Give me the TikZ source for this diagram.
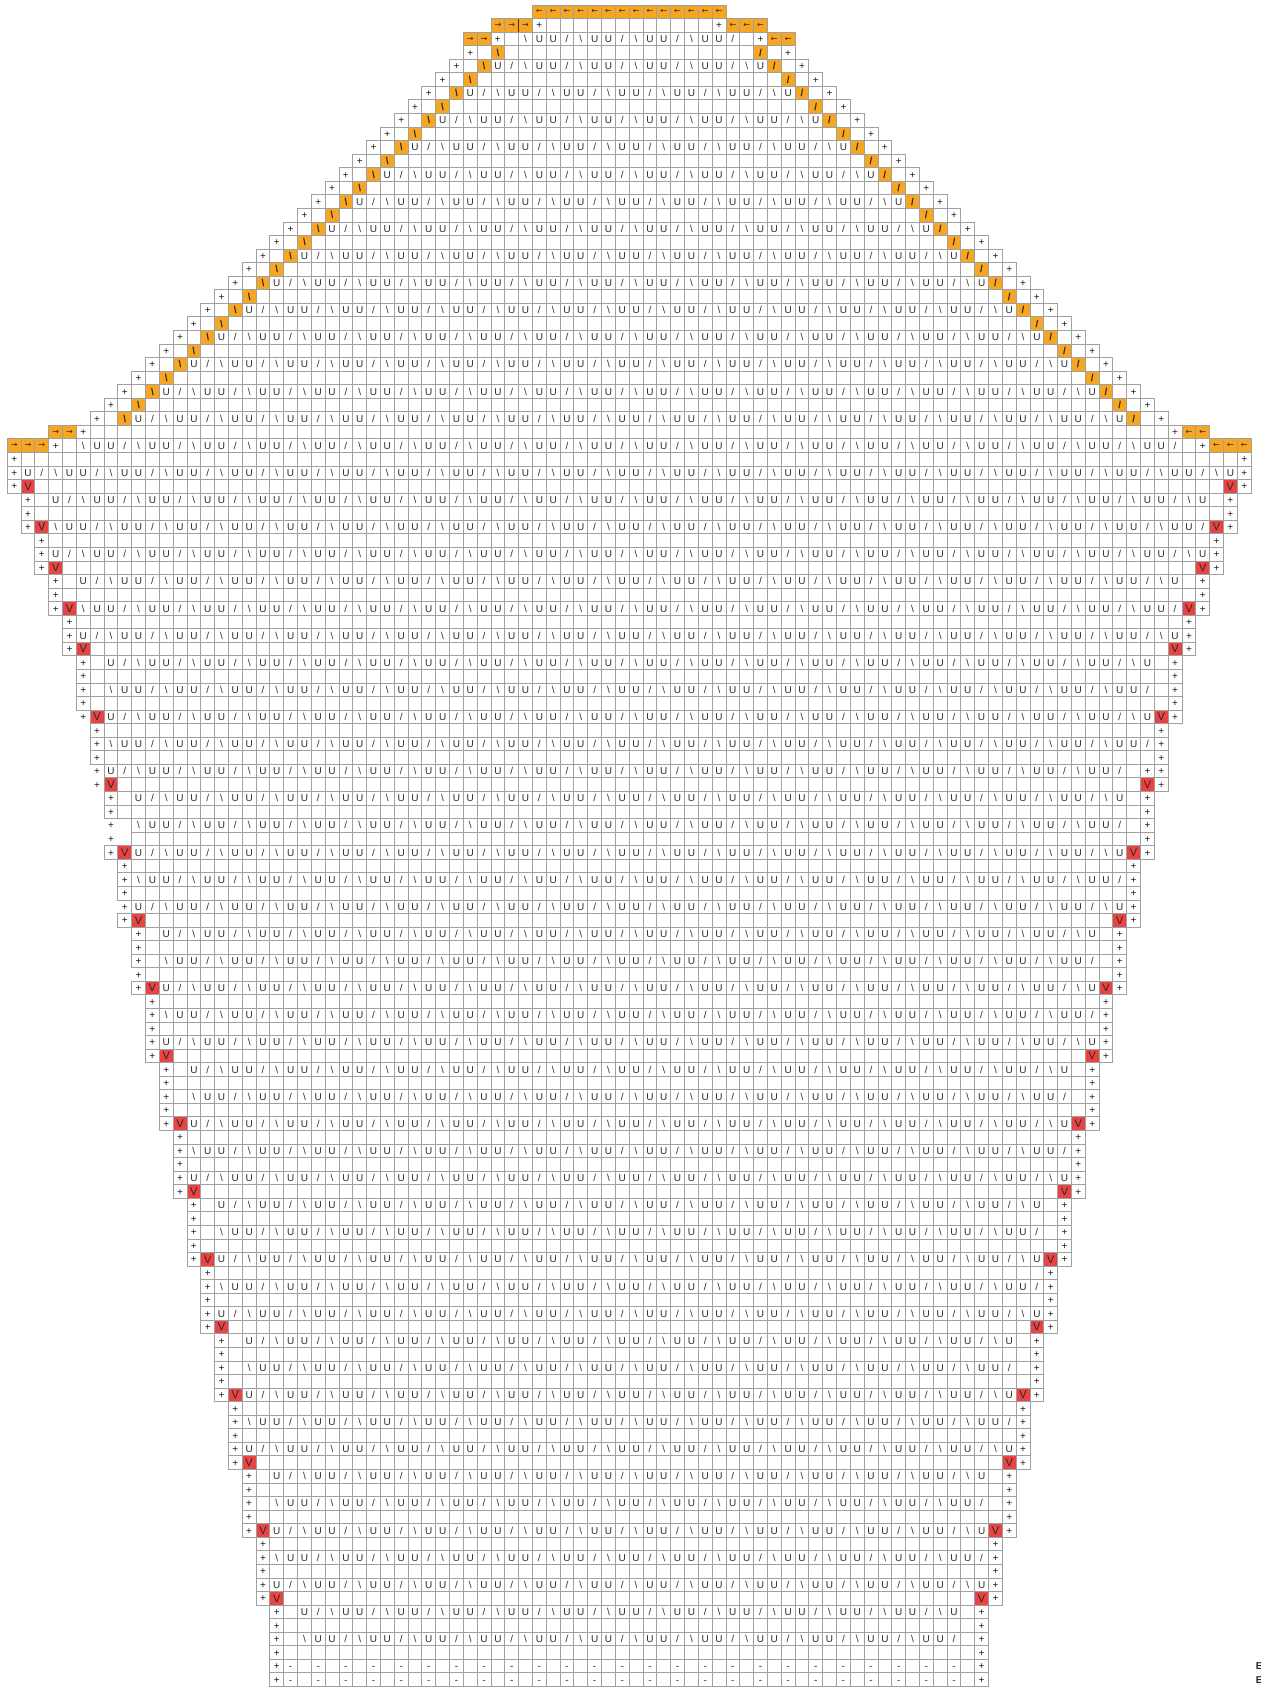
\documentclass[tikz,border=0pt]{standalone}
\usepackage{fontspec}
\setmainfont{Liberation Sans}
\newfontfamily\arrowfont{DejaVu Sans}
\definecolor{gridc}{RGB}{160,160,160}
\definecolor{orangec}{RGB}{246,166,35}
\definecolor{redc}{RGB}{233,67,67}
\definecolor{txtc}{RGB}{45,45,45}
\definecolor{darkbar}{RGB}{70,45,20}
\newlength\cw \setlength\cw{13.82pt}
\tikzset{
  cellbox/.style={draw=gridc, line width=0.9pt},
  symb/.style={inner sep=0pt, outer sep=0pt, text=txtc, font=\fontsize{10}{10}\selectfont, anchor=base},
  rowtxt/.style={symb, anchor=base west},
  plusb/.style={symb, text=black!90, font=\fontsize{10}{10}\selectfont},
  arrb/.style={inner sep=0pt, outer sep=0pt, text=black!85, font=\arrowfont\fontsize{8}{8}\selectfont, anchor=center},
  obsym/.style={symb, text=black!85, font=\bfseries\fontsize{10}{10}\selectfont},
  vb/.style={inner sep=0pt, outer sep=0pt, text=black!85, font=\fontsize{11}{11}\selectfont, anchor=center},
  edgeb/.style={inner sep=0pt, outer sep=0pt, text=black!85, font=\bfseries\fontsize{10}{10}\selectfont, anchor=west},
}
% one row of bordered cells: row, from, to
\newcommand\RowBox[3]{%
  \draw[cellbox] (#2,#1) rectangle (#3+1,#1+1)
    foreach \cc in {#2,...,#3} {(\cc,#1) -- (\cc,#1+1)};}
% single symbol (baseline aligned): row, col, text, style
\newcommand\SymAt[4]{\node[#4] (s-#1-#2) at (#2+0.5,#1+0.764) {#3};}
% centred symbol: row, col, text, style
\newcommand\SymC[4]{\node[#4] (s-#1-#2) at (#2+0.5,#1+0.5) {#3};}
% pattern \ U U / as one node: row, from, to, phase
\newcommand\PatRow[4]{%
  \node[rowtxt] (p-#1) at (#2,#1+0.764) {\foreach \cc in {#2,...,#3}{\pgfmathtruncatemacro\kk{mod(\cc-#4+8,4)}\makebox[\cw][c]{\ifcase\kk\textbackslash\or U\or U\or/\fi}}};}
% parameters of the lower rows (uses \rr)
\newcommand\lowerparams{%
  \ifnum\rr<48
    \pgfmathtruncatemacro\Lc{floor((\rr-33)/3)}%
    \pgfmathtruncatemacro\mm{mod(\rr-5,3)}%
    \ifnum\rr<35 \def\isV{0}\else\ifnum\mm=0 \def\isV{1}\else\def\isV{0}\fi\fi
  \else
    \pgfmathtruncatemacro\Lc{min(5+floor((\rr-48)/5),19)}%
    \pgfmathtruncatemacro\mm{mod(\rr-2,5)}%
    \ifnum\rr>117 \def\isV{0}\else\ifnum\mm=0 \def\isV{1}\else\def\isV{0}\fi\fi
  \fi
  \pgfmathtruncatemacro\Rc{89-\Lc}%
  \pgfmathtruncatemacro\PSc{\Lc+1+mod(\Lc,2)}%
  \pgfmathtruncatemacro\PEc{89-\PSc}%
  \pgfmathtruncatemacro\ph{mod(\rr,4)==0 ? 1 : 3}%
  % first bordered column (some left edge cells have no border)
  \edef\Bc{\Lc}%
  \ifnum\rr=52 \pgfmathtruncatemacro\Bc{\Lc+1}\fi
  \ifnum\rr=56 \pgfmathtruncatemacro\Bc{\Lc+1}\fi
  \ifnum\rr=57 \pgfmathtruncatemacro\Bc{\Lc+1}\fi
  \ifnum\rr=60 \pgfmathtruncatemacro\Bc{\Lc+2}\fi
  \ifnum\rr=61 \pgfmathtruncatemacro\Bc{\Lc+2}\fi
  \ifnum\rr=66 \pgfmathtruncatemacro\Bc{\Lc+1}\fi
  \ifnum\rr=71 \pgfmathtruncatemacro\Bc{\Lc+1}\fi
}
\begin{document}
\begin{tikzpicture}
\useasboundingbox (0,0) rectangle (1260pt,-1688pt);
\fill[white] (0,0) rectangle (1260pt,-1688pt);
\begin{scope}[shift={(7.3pt,-5pt)},x=13.82pt,y=-13.56pt]
% ---------- fills ----------
\fill[orangec] (38,0) rectangle (52,1);
\fill[orangec] (35,1) rectangle (38,2);
\fill[orangec] (52,1) rectangle (55,2);
\fill[orangec] (33,2) rectangle (35,3);
\fill[orangec] (55,2) rectangle (57,3);
\foreach \rr in {3,...,30}{%
  \pgfmathtruncatemacro\xa{38-\rr}\pgfmathtruncatemacro\xb{51+\rr}%
  \fill[orangec] (\xa,\rr) rectangle ++(1,1);
  \fill[orangec] (\xb,\rr) rectangle ++(1,1);}
\fill[orangec] (3,31) rectangle (5,32);
\fill[orangec] (85,31) rectangle (87,32);
\fill[orangec] (0,32) rectangle (3,33);
\fill[orangec] (87,32) rectangle (90,33);
\foreach \rr in {33,...,117}{\lowerparams
  \ifnum\isV=1
    \fill[redc] (\Lc+1,\rr) rectangle ++(1,1);
    \fill[redc] (\Rc-1,\rr) rectangle ++(1,1);
  \fi}
% ---------- borders ----------
\RowBox{0}{38}{51}
\RowBox{1}{35}{54}
\RowBox{2}{33}{56}
\foreach \rr in {3,...,30}{%
  \pgfmathtruncatemacro\xa{36-\rr}\pgfmathtruncatemacro\xb{53+\rr}%
  \RowBox{\rr}{\xa}{\xb}}
\RowBox{31}{3}{86}
\RowBox{32}{0}{89}
\foreach \rr in {33,...,123}{\lowerparams \RowBox{\rr}{\Bc}{\Rc}}
\draw[darkbar, line width=1.6pt] (37,1) -- (37,2);
% ---------- symbols ----------
\foreach \cc in {38,...,51} {\SymC{0}{\cc}{←}{arrb}}
\foreach \cc in {35,36,37} {\SymC{1}{\cc}{→}{arrb}}
\foreach \cc in {52,53,54} {\SymC{1}{\cc}{←}{arrb}}
\SymAt{1}{38}{+}{plusb}\SymAt{1}{51}{+}{plusb}
\foreach \cc in {33,34} {\SymC{2}{\cc}{→}{arrb}}
\foreach \cc in {55,56} {\SymC{2}{\cc}{←}{arrb}}
\SymAt{2}{35}{+}{plusb}\SymAt{2}{54}{+}{plusb}
\PatRow{2}{37}{52}{1}
\foreach \rr in {3,...,30}{%
  \pgfmathtruncatemacro\xa{36-\rr}\pgfmathtruncatemacro\xb{53+\rr}%
  \pgfmathtruncatemacro\xc{38-\rr}\pgfmathtruncatemacro\xd{51+\rr}%
  \SymAt{\rr}{\xa}{+}{plusb}\SymAt{\rr}{\xb}{+}{plusb}%
  \SymAt{\rr}{\xc}{\textbackslash}{obsym}\SymAt{\rr}{\xd}{/}{obsym}%
  \ifodd\rr\relax\else
    \pgfmathtruncatemacro\xe{39-\rr}\pgfmathtruncatemacro\xf{50+\rr}%
    \pgfmathtruncatemacro\ph{mod(\rr,4)==0 ? 1 : 3}%
    \PatRow{\rr}{\xe}{\xf}{\ph}%
  \fi}
\foreach \cc in {3,4} {\SymC{31}{\cc}{→}{arrb}}
\foreach \cc in {85,86} {\SymC{31}{\cc}{←}{arrb}}
\SymAt{31}{5}{+}{plusb}\SymAt{31}{84}{+}{plusb}
\foreach \cc in {0,1,2} {\SymC{32}{\cc}{→}{arrb}}
\foreach \cc in {87,88,89} {\SymC{32}{\cc}{←}{arrb}}
\SymAt{32}{3}{+}{plusb}\SymAt{32}{86}{+}{plusb}
\PatRow{32}{5}{84}{1}
\foreach \rr in {33,...,123}{\lowerparams
  \SymAt{\rr}{\Lc}{+}{plusb}\SymAt{\rr}{\Rc}{+}{plusb}%
  \ifnum\isV=1
    \pgfmathtruncatemacro\xa{\Lc+1}\pgfmathtruncatemacro\xb{\Rc-1}%
    \SymC{\rr}{\xa}{V}{vb}\SymC{\rr}{\xb}{V}{vb}%
  \fi
  \ifnum\rr>121
    \node[rowtxt] (d-\rr) at (20,\rr+0.764) {\foreach \cc in {20,22,...,68}{\makebox[\cw][c]{-}\makebox[\cw]{}}};%
  \else
    \ifodd\rr\relax\else
      \ifnum\rr=56
        \PatRow{\rr}{7}{80}{1}\SymAt{\rr}{82}{+}{plusb}%
      \else
        \PatRow{\rr}{\PSc}{\PEc}{\ph}%
      \fi
    \fi
  \fi}
\end{scope}
\node[edgeb] (e1) at (1255.8pt,-1666.1pt) {E};
\node[edgeb] (e2) at (1255.8pt,-1679.7pt) {E};
\end{tikzpicture}
\end{document}
